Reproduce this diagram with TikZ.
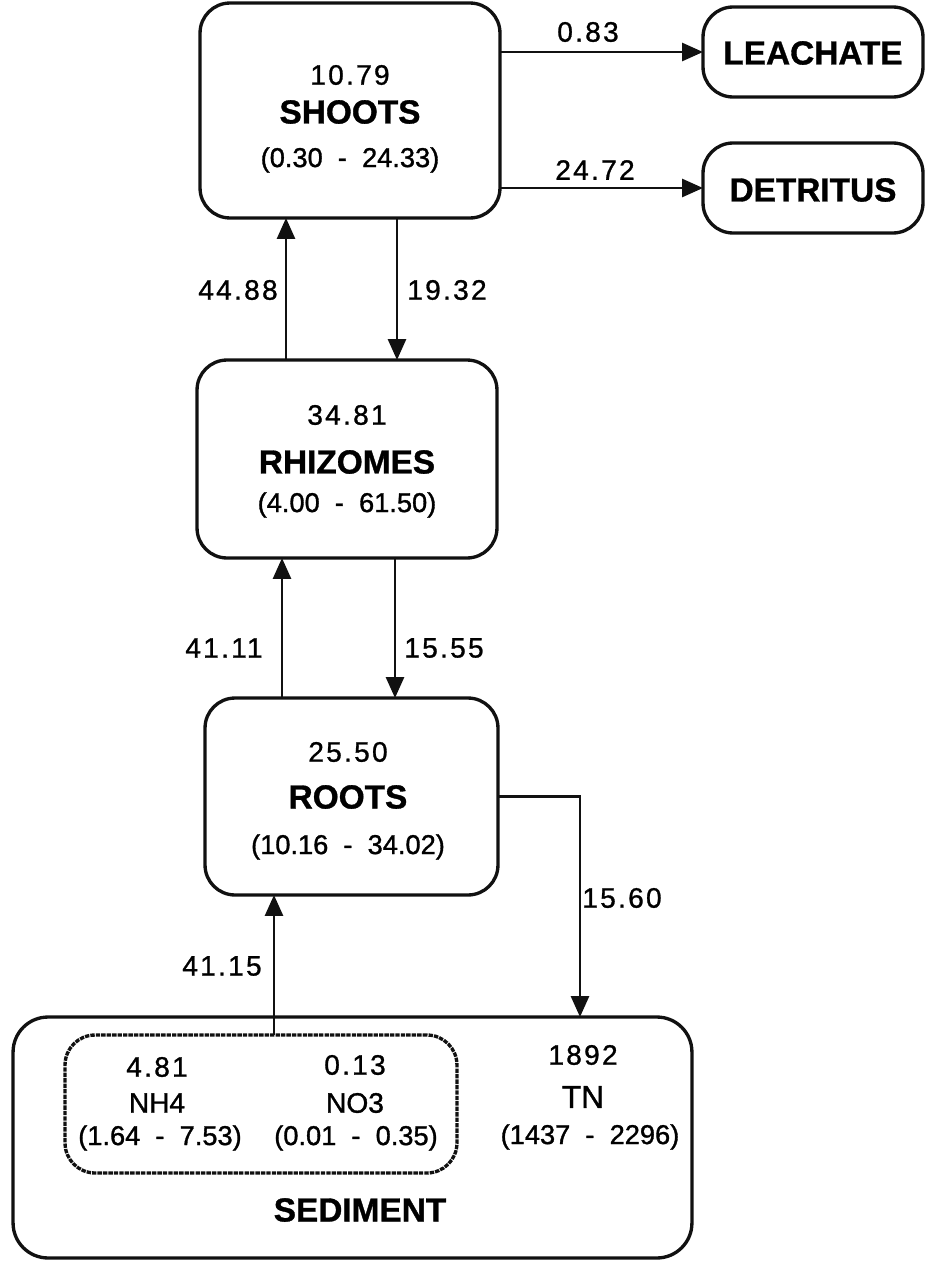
\documentclass[tikz,border=0pt]{standalone}
\usepackage{fontspec}
\setmainfont{Liberation Sans}[FakeBold=1]
\newfontfamily\numfont[LetterSpace=8,FakeBold=1]{Liberation Sans}
\newfontfamily\txtfont[FakeBold=1.2]{Liberation Sans}
\usetikzlibrary{arrows.meta,positioning}
\definecolor{ink}{HTML}{111111}

\begin{document}
\begin{tikzpicture}[x=0.02cm,y=-0.02cm,
  pool/.style={draw=ink,line width=1.9pt,rounded corners=0.6cm,inner sep=0pt,outer sep=0pt},
  flow/.style={draw=ink,line width=1.6pt,-{Triangle[length=0.42cm,width=0.36cm]}},
  val/.style={font=\numfont\fontsize{16}{18}\selectfont,inner sep=0pt},
  rng/.style={font=\txtfont\fontsize{15.5}{18}\selectfont,inner sep=0pt},
  poolname/.style={font=\fontsize{19}{22}\selectfont\bfseries,inner sep=0pt},
  chem/.style={font=\txtfont\fontsize{16}{18}\selectfont,inner sep=0pt}]
\useasboundingbox (0,0) rectangle (926,1261);
% compartments
\node[pool,minimum width=6cm,minimum height=4.3cm] (shoots) at (350,110.5) {};
\node[pool,minimum width=4.4cm,minimum height=1.8cm] (leach) at (813,52) {};
\node[pool,minimum width=4.4cm,minimum height=1.8cm] (detr) at (813,188) {};
\node[pool,minimum width=6cm,minimum height=3.96cm] (rhiz) at (347,459) {};
\node[pool,minimum width=5.86cm,minimum height=3.94cm] (roots) at (351.5,796.5) {};
\node[pool,rounded corners=0.7cm,minimum width=13.58cm,minimum height=4.82cm] (sed) at (352.5,1137.5) {};
\node[pool,dash pattern=on 2.5pt off 0.6pt,minimum width=7.84cm,minimum height=2.76cm] (inorg) at (261,1104) {};
% texts
\node[val] (shootsv) at (350,75) {10.79};\node[poolname] (shootsn) at (350,112) {SHOOTS};\node[rng] (shootsr) at (350,160) {(0.30~ -~ 24.33)};
\node[poolname] (leachn) at (813,53) {LEACHATE};\node[poolname] (detrn) at (813,190) {DETRITUS};
\node[val] (rhizv) at (347,415) {34.81};\node[poolname] (rhizn) at (347,462) {RHIZOMES};\node[rng] (rhizr) at (347,505) {(4.00~ -~ 61.50)};
\node[val] (rootsv) at (348,752) {25.50};\node[poolname] (rootsn) at (348,797) {ROOTS};\node[rng] (rootsr) at (348,847) {(10.16~ -~ 34.02)};
\node[val] (nhv) at (157,1067) {4.81};\node[chem] (nhn) at (157,1103) {NH4};\node[rng] (nhr) at (160,1138) {(1.64~ -~ 7.53)};
\node[val] (nov) at (355,1065) {0.13};\node[chem] (non) at (355,1103) {NO3};\node[rng] (nor) at (356,1138) {(0.01~ -~ 0.35)};
\node[val] (tnv) at (583,1055) {1892};\node[chem,font=\txtfont\fontsize{18}{20}\selectfont] (tnn) at (583,1097) {TN};\node[rng] (tnr) at (590,1137) {(1437~ -~ 2296)};
\node[poolname] (sedn) at (360,1210) {SEDIMENT};
% fluxes
\coordinate (c1) at (286,0);\coordinate (c2) at (397,0);\coordinate (c3) at (282,0);
\coordinate (c4) at (395,0);\coordinate (c5) at (274,0);\coordinate (c6) at (580,0);
\draw[flow] (shoots.east |- leach.west) -- (leach.west);
\draw[flow] (shoots.east |- detr.west) -- (detr.west);
\draw[flow] (rhiz.north -| c1) -- (shoots.south -| c1);
\draw[flow] (shoots.south -| c2) -- (rhiz.north -| c2);
\draw[flow] (roots.north -| c3) -- (rhiz.south -| c3);
\draw[flow] (rhiz.south -| c4) -- (roots.north -| c4);
\draw[flow] (roots.east) -| (sed.north -| c6);
\draw[flow] (inorg.north -| c5) -- (roots.south -| c5);
\node[val] (f1) at (588,32) {0.83};\node[val] (f2) at (595,170) {24.72};
\node[val] (f3) at (238,290) {44.88};\node[val] (f4) at (447,290) {19.32};
\node[val] (f5) at (224,648) {41.11};\node[val] (f6) at (444,648) {15.55};
\node[val] (f7) at (622,898) {15.60};\node[val] (f8) at (222,966) {41.15};
\end{tikzpicture}
\end{document}
